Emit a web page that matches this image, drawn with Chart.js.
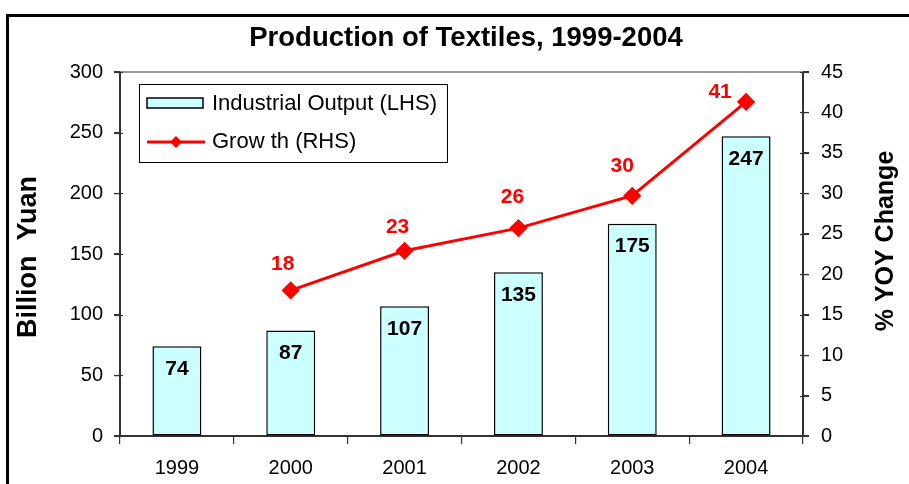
<!DOCTYPE html>
<html>
<head>
<meta charset="utf-8">
<script src="https://cdn.jsdelivr.net/npm/chart.js@4.4.1/dist/chart.umd.min.js"></script>
<style>
  html, body { margin: 0; padding: 0; background: #ffffff; }
  #wrap { width: 909px; height: 484px; position: relative; }
</style>
</head>
<body>
<div id="wrap"><canvas id="c" width="909" height="484"></canvas></div>
<script>
const categories = ['1999', '2000', '2001', '2002', '2003', '2004'];
const outputValues = [74, 87, 107, 135, 175, 247];
const growthValues = [null, 18.0, 22.9, 25.7, 29.7, 41.3];
const leftTicks = [0, 50, 100, 150, 200, 250, 300];
const rightTicks = [0, 5, 10, 15, 20, 25, 30, 35, 40, 45];
const titleText = 'Production of Textiles, 1999-2004';
const leftTitle = 'Billion  Yuan';
const rightTitle = '% YOY Change';
const seriesNames = ['Industrial Output (LHS)', 'Grow th (RHS)'];

// styling: pixel offsets of the growth labels relative to their points
const growthLabelDx = [0, -8, -7, -6, -10, -26];
const growthLabelDy = [0, -26, -24, -31, -30, -10];

const FONT = '"Liberation Sans", Arial, Helvetica, sans-serif';

const decor = {
  id: 'decor',
  beforeDraw(chart) {
    const ctx = chart.ctx;
    ctx.save();
    ctx.fillStyle = '#ffffff';
    ctx.fillRect(0, 0, chart.width, chart.height);
    ctx.strokeStyle = '#000000';
    ctx.lineWidth = 3;
    ctx.strokeRect(7.5, 15.5, 1000, 1000);
    ctx.restore();
  },
  afterDraw(chart) {
    const ctx = chart.ctx;
    const a = chart.chartArea;
    ctx.save();
    ctx.strokeStyle = '#9a9a9a';
    ctx.lineWidth = 2;
    ctx.beginPath();
    ctx.moveTo(a.left, a.top);
    ctx.lineTo(a.right, a.top);
    ctx.stroke();

    ctx.strokeStyle = '#333333';
    ctx.lineWidth = 1.2;
    const ys = chart.scales.y, yr = chart.scales.y1;
    leftTicks.forEach(v => {
      const py = Math.round(ys.getPixelForValue(v)) + 0.5;
      ctx.beginPath(); ctx.moveTo(a.left - 6, py); ctx.lineTo(a.left + 3, py); ctx.stroke();
    });
    rightTicks.forEach(v => {
      const py = Math.round(yr.getPixelForValue(v)) + 0.5;
      ctx.beginPath(); ctx.moveTo(a.right - 3, py); ctx.lineTo(a.right + 6, py); ctx.stroke();
    });

    ctx.fillStyle = '#000000';
    ctx.font = 'bold 27.5px ' + FONT;
    ctx.textAlign = 'center';
    ctx.textBaseline = 'middle';
    ctx.fillText(titleText, 466, 38);

    ctx.font = 'bold 27px ' + FONT;
    ctx.save();
    ctx.translate(29, 257);
    ctx.rotate(-Math.PI / 2);
    ctx.fillText(leftTitle, 0, 0);
    ctx.restore();
    ctx.font = 'bold 25px ' + FONT;
    ctx.save();
    ctx.translate(886, 241);
    ctx.rotate(-Math.PI / 2);
    ctx.fillText(rightTitle, 0, 0);
    ctx.restore();

    ctx.font = 'bold 21px ' + FONT;
    const barMeta = chart.getDatasetMeta(0);
    barMeta.data.forEach((el, i) => {
      const v = outputValues[i];
      if (v == null) return;
      ctx.fillStyle = '#000000';
      ctx.fillText(String(Math.round(v)), el.x, el.y + 23);
    });
    const lineMeta = chart.getDatasetMeta(1);
    lineMeta.data.forEach((el, i) => {
      const v = growthValues[i];
      if (v == null) return;
      ctx.fillStyle = '#ff0000';
      ctx.fillText(String(Math.round(v)), el.x + growthLabelDx[i], el.y + growthLabelDy[i]);
    });

    const lx = a.left + 19, ly = a.top + 12, lw = 308, lh = 78;
    ctx.fillStyle = '#ffffff';
    ctx.fillRect(lx, ly, lw, lh);
    ctx.strokeStyle = '#000000';
    ctx.lineWidth = 1;
    ctx.strokeRect(lx + 0.5, ly + 0.5, lw, lh);
    const ds0 = chart.data.datasets[0], ds1 = chart.data.datasets[1];
    ctx.fillStyle = ds0.backgroundColor;
    ctx.fillRect(lx + 8, ly + 14, 56, 10);
    ctx.strokeStyle = '#000000';
    ctx.lineWidth = 1.5;
    ctx.strokeRect(lx + 8, ly + 14, 56, 10);
    ctx.strokeStyle = ds1.borderColor;
    ctx.lineWidth = 3;
    ctx.beginPath();
    ctx.moveTo(lx + 8, ly + 58); ctx.lineTo(lx + 66, ly + 58);
    ctx.stroke();
    ctx.fillStyle = ds1.pointBackgroundColor;
    ctx.beginPath();
    const cx = lx + 37, cy = ly + 58, r = 6;
    ctx.moveTo(cx, cy - r); ctx.lineTo(cx + r, cy); ctx.lineTo(cx, cy + r); ctx.lineTo(cx - r, cy); ctx.closePath();
    ctx.fill();
    ctx.fillStyle = '#000000';
    ctx.font = '22px ' + FONT;
    ctx.textAlign = 'left';
    ctx.fillText(seriesNames[0], lx + 73, ly + 20);
    ctx.fillText(seriesNames[1], lx + 73, ly + 58);
    ctx.restore();
  }
};

new Chart(document.getElementById('c'), {
  type: 'bar',
  data: {
    labels: categories,
    datasets: [
      {
        type: 'bar',
        label: seriesNames[0],
        data: outputValues,
        yAxisID: 'y',
        backgroundColor: '#ccffff',
        borderColor: '#000000',
        borderWidth: 1.5,
        borderSkipped: false,
        barPercentage: 0.43,
        categoryPercentage: 1.0,
        order: 2
      },
      {
        type: 'line',
        label: seriesNames[1],
        data: growthValues,
        yAxisID: 'y1',
        borderColor: '#ff0000',
        backgroundColor: '#ff0000',
        pointBackgroundColor: '#ff0000',
        pointBorderColor: '#ff0000',
        borderWidth: 3,
        pointStyle: 'rectRot',
        pointRadius: 7,
        pointHoverRadius: 7,
        spanGaps: false,
        tension: 0,
        order: 1
      }
    ]
  },
  options: {
    responsive: false,
    animation: false,
    events: [],
    layout: { padding: { top: 72, left: 0, right: 0, bottom: 0 } },
    plugins: {
      legend: { display: false },
      title: { display: false },
      tooltip: { enabled: false }
    },
    scales: {
      x: {
        type: 'category',
        offset: true,
        grid: { display: true, drawOnChartArea: false, drawTicks: true, tickLength: 8, color: '#333333', lineWidth: 1.2, offset: true },
        border: { display: true, color: '#333333', width: 2 },
        ticks: { color: '#000000', font: { family: FONT, size: 20 }, padding: 12, maxRotation: 0 },
        afterFit(s) { s.height = 48; }
      },
      y: {
        position: 'left',
        min: 0, max: 300,
        afterBuildTicks(s) { s.ticks = leftTicks.map(v => ({ value: v })); },
        grid: { display: true, drawOnChartArea: false, drawTicks: true, tickLength: 6, color: '#333333', lineWidth: 1.2 },
        border: { display: true, color: '#333333', width: 2 },
        ticks: { color: '#000000', font: { family: FONT, size: 20 }, padding: 11 },
        afterFit(s) { s.width = 120; }
      },
      y1: {
        position: 'right',
        min: 0, max: 45,
        afterBuildTicks(s) { s.ticks = rightTicks.map(v => ({ value: v })); },
        grid: { display: true, drawOnChartArea: false, drawTicks: true, tickLength: 6, color: '#333333', lineWidth: 1.2 },
        border: { display: true, color: '#333333', width: 2 },
        ticks: { color: '#000000', font: { family: FONT, size: 20 }, padding: 12 },
        afterFit(s) { s.width = 106; }
      }
    }
  },
  plugins: [decor]
});
</script>
</body>
</html>
